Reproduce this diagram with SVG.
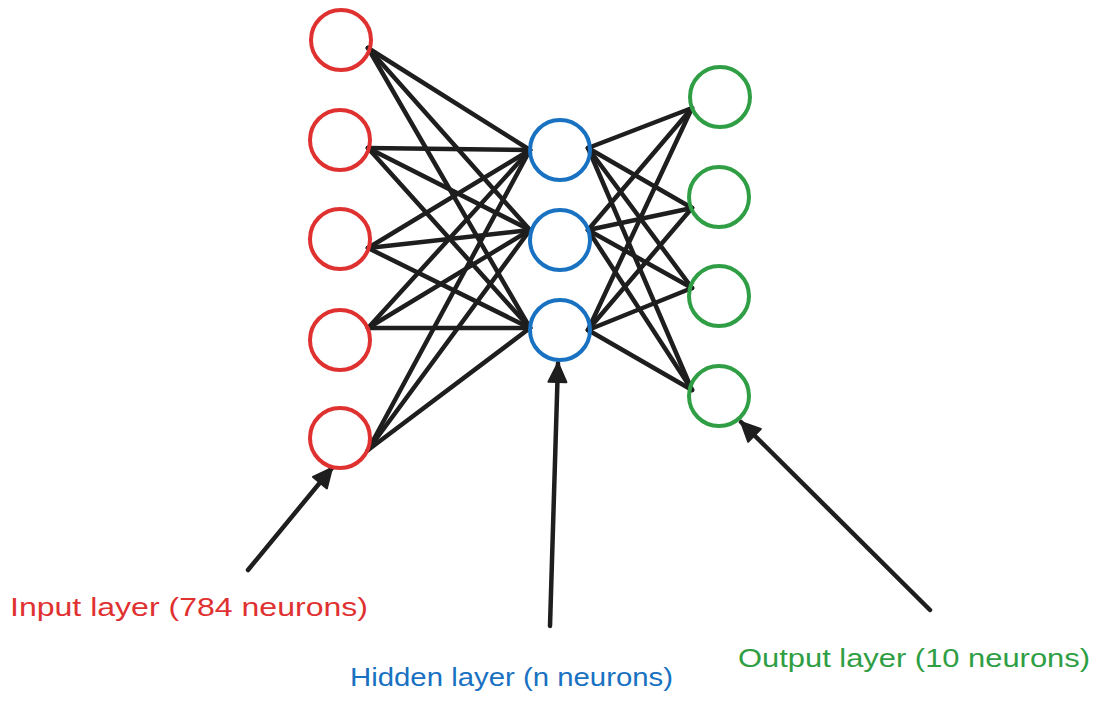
<svg xmlns="http://www.w3.org/2000/svg" width="1101" height="705" viewBox="0 0 1101 705">
<style>
.in{fill:none;stroke:#e03131;stroke-width:4}
.hid{fill:none;stroke:#1971c2;stroke-width:4}
.out{fill:none;stroke:#2f9e44;stroke-width:4}
.c{stroke:#1e1e1e;stroke-width:4.5;stroke-linecap:round;fill:none}
.a{stroke:#1e1e1e;stroke-width:4.5;stroke-linecap:round;fill:none;marker-end:url(#ah)}
.t{font-family:"Liberation Sans",Arial,sans-serif;font-size:26px}
</style>
<defs>
<marker id="ah" markerUnits="userSpaceOnUse" markerWidth="24" markerHeight="24" viewBox="0 0 24 24" refX="22" refY="12" orient="auto">
<path d="M3,3 L22,12 L3,21 Z" fill="#1e1e1e" stroke="#1e1e1e" stroke-width="2" stroke-linejoin="round"/>
</marker>
</defs>
<rect width="1101" height="705" fill="#ffffff"/>
<g id="connectors">
<line class="c" x1="368" y1="48" x2="530" y2="150"/>
<line class="c" x1="368" y1="48" x2="530" y2="230"/>
<line class="c" x1="368" y1="48" x2="530" y2="328"/>
<line class="c" x1="368" y1="148" x2="530" y2="150"/>
<line class="c" x1="368" y1="148" x2="530" y2="230"/>
<line class="c" x1="368" y1="148" x2="530" y2="328"/>
<line class="c" x1="368" y1="248" x2="530" y2="150"/>
<line class="c" x1="368" y1="248" x2="530" y2="230"/>
<line class="c" x1="368" y1="248" x2="530" y2="328"/>
<line class="c" x1="368" y1="328" x2="530" y2="150"/>
<line class="c" x1="368" y1="328" x2="530" y2="230"/>
<line class="c" x1="368" y1="328" x2="530" y2="328"/>
<line class="c" x1="368" y1="450" x2="530" y2="150"/>
<line class="c" x1="368" y1="450" x2="530" y2="230"/>
<line class="c" x1="368" y1="450" x2="530" y2="328"/>
<line class="c" x1="588" y1="148" x2="692" y2="108"/>
<line class="c" x1="588" y1="148" x2="692" y2="208"/>
<line class="c" x1="588" y1="148" x2="692" y2="288"/>
<line class="c" x1="588" y1="148" x2="692" y2="390"/>
<line class="c" x1="588" y1="230" x2="692" y2="108"/>
<line class="c" x1="588" y1="230" x2="692" y2="208"/>
<line class="c" x1="588" y1="230" x2="692" y2="288"/>
<line class="c" x1="588" y1="230" x2="692" y2="390"/>
<line class="c" x1="588" y1="330" x2="692" y2="108"/>
<line class="c" x1="588" y1="330" x2="692" y2="208"/>
<line class="c" x1="588" y1="330" x2="692" y2="288"/>
<line class="c" x1="588" y1="330" x2="692" y2="390"/>
<line class="a" x1="248" y1="570" x2="332" y2="468"/>
<line class="a" x1="550" y1="626" x2="558" y2="363"/>
<line class="a" x1="930" y1="610" x2="741" y2="422"/>
</g>
<g id="input-1"><circle class="in" cx="341" cy="40" r="30"/></g>
<g id="input-2"><circle class="in" cx="340" cy="140" r="30"/></g>
<g id="input-3"><circle class="in" cx="340" cy="239" r="30"/></g>
<g id="input-4"><circle class="in" cx="340" cy="340" r="30"/></g>
<g id="input-5"><circle class="in" cx="340" cy="438" r="30"/></g>
<g id="hidden-1"><circle class="hid" cx="560" cy="150" r="30"/></g>
<g id="hidden-2"><circle class="hid" cx="560" cy="240" r="30"/></g>
<g id="hidden-3"><circle class="hid" cx="560" cy="330" r="30"/></g>
<g id="output-1"><circle class="out" cx="720" cy="97" r="30"/></g>
<g id="output-2"><circle class="out" cx="719" cy="197" r="30"/></g>
<g id="output-3"><circle class="out" cx="719" cy="296" r="30"/></g>
<g id="output-4"><circle class="out" cx="719" cy="396" r="30"/></g>
<g id="label-input"><text class="t" x="10" y="616" fill="#e03131" textLength="358" lengthAdjust="spacingAndGlyphs">Input layer (784 neurons)</text></g>
<g id="label-hidden"><text class="t" x="350" y="686" fill="#1971c2" textLength="323" lengthAdjust="spacingAndGlyphs">Hidden layer (n neurons)</text></g>
<g id="label-output"><text class="t" x="738" y="667" fill="#2f9e44" textLength="352" lengthAdjust="spacingAndGlyphs">Output layer (10 neurons)</text></g>
</svg>
